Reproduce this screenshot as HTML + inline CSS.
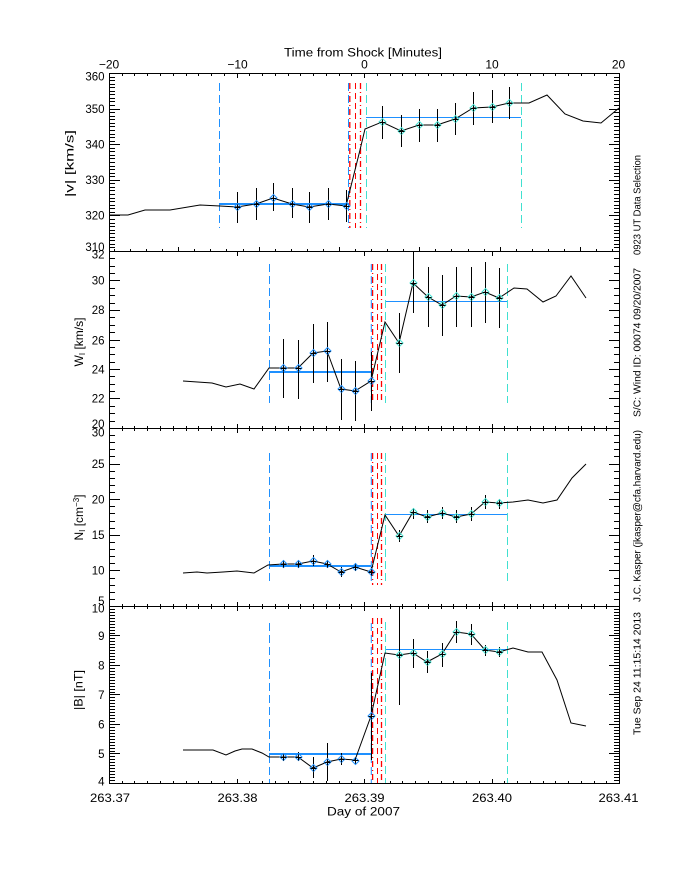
<!DOCTYPE html>
<html><head><meta charset="utf-8"><style>
html,body{margin:0;padding:0;background:#fff;}
svg{display:block;}
text{font-family:"Liberation Sans",sans-serif;fill:#000;}
</style></head><body>
<svg width="680" height="880" viewBox="0 0 680 880" xmlns="http://www.w3.org/2000/svg">
<defs>
<path id="xmin" d="M122.5 0v-3M134.5 0v-3M147.5 0v-3M160.5 0v-3M173.5 0v-3M186.5 0v-3M198.5 0v-3M211.5 0v-3M224.5 0v-3M249.5 0v-3M262.5 0v-3M275.5 0v-3M288.5 0v-3M300.5 0v-3M313.5 0v-3M326.5 0v-3M339.5 0v-3M351.5 0v-3M377.5 0v-3M390.5 0v-3M402.5 0v-3M415.5 0v-3M428.5 0v-3M441.5 0v-3M453.5 0v-3M466.5 0v-3M479.5 0v-3M504.5 0v-3M517.5 0v-3M530.5 0v-3M543.5 0v-3M555.5 0v-3M568.5 0v-3M581.5 0v-3M594.5 0v-3M606.5 0v-3"/>
<path id="xmaj" d="M237.5 0v-5M364.5 0v-5M492.5 0v-5"/>
<path id="xodd" d="M114.5 0v-3M130.5 0v-3M146.5 0v-3M162.5 0v-3M194.5 0v-3M210.5 0v-3M226.5 0v-3M243.5 0v-3M275.5 0v-3M291.5 0v-3M307.5 0v-3M323.5 0v-3M355.5 0v-3M371.5 0v-3M387.5 0v-3M403.5 0v-3M435.5 0v-3M451.5 0v-3M468.5 0v-3M484.5 0v-3M516.5 0v-3M532.5 0v-3M548.5 0v-3M564.5 0v-3M596.5 0v-3M612.5 0v-3M178.5 0v-5M259.5 0v-5M339.5 0v-5M419.5 0v-5M500.5 0v-5M580.5 0v-5"/>
<path id="y1" d="M0 247.5h5M0 244.5h5M0 240.5h5M0 237.5h5M0 233.5h5M0 230.5h5M0 226.5h5M0 223.5h5M0 219.5h5M0 212.5h5M0 208.5h5M0 205.5h5M0 201.5h5M0 198.5h5M0 194.5h5M0 190.5h5M0 187.5h5M0 183.5h5M0 176.5h5M0 173.5h5M0 169.5h5M0 166.5h5M0 162.5h5M0 158.5h5M0 155.5h5M0 151.5h5M0 148.5h5M0 141.5h5M0 137.5h5M0 134.5h5M0 130.5h5M0 126.5h5M0 123.5h5M0 119.5h5M0 116.5h5M0 112.5h5M0 105.5h5M0 101.5h5M0 98.5h5M0 94.5h5M0 91.5h5M0 87.5h5M0 84.5h5M0 80.5h5M0 77.5h5M0 215.5h10M0 180.5h10M0 144.5h10M0 109.5h10"/>
<path id="y2" d="M0 421.5h5M0 413.5h5M0 406.5h5M0 391.5h5M0 384.5h5M0 376.5h5M0 362.5h5M0 354.5h5M0 347.5h5M0 332.5h5M0 325.5h5M0 317.5h5M0 303.5h5M0 295.5h5M0 288.5h5M0 273.5h5M0 266.5h5M0 258.5h5M0 398.5h10M0 369.5h10M0 340.5h10M0 310.5h10M0 280.5h10"/>
<path id="y3" d="M0 599.5h5M0 592.5h5M0 585.5h5M0 578.5h5M0 563.5h5M0 556.5h5M0 549.5h5M0 542.5h5M0 528.5h5M0 521.5h5M0 513.5h5M0 506.5h5M0 492.5h5M0 485.5h5M0 478.5h5M0 471.5h5M0 456.5h5M0 449.5h5M0 442.5h5M0 435.5h5M0 570.5h10M0 535.5h10M0 499.5h10M0 464.5h10"/>
<path id="y4" d="M0 780.5h5M0 777.5h5M0 774.5h5M0 771.5h5M0 768.5h5M0 765.5h5M0 762.5h5M0 759.5h5M0 756.5h5M0 751.5h5M0 748.5h5M0 745.5h5M0 742.5h5M0 739.5h5M0 736.5h5M0 733.5h5M0 730.5h5M0 727.5h5M0 721.5h5M0 718.5h5M0 715.5h5M0 712.5h5M0 709.5h5M0 706.5h5M0 703.5h5M0 700.5h5M0 697.5h5M0 692.5h5M0 689.5h5M0 686.5h5M0 683.5h5M0 680.5h5M0 677.5h5M0 674.5h5M0 671.5h5M0 668.5h5M0 662.5h5M0 659.5h5M0 656.5h5M0 653.5h5M0 650.5h5M0 647.5h5M0 644.5h5M0 641.5h5M0 638.5h5M0 633.5h5M0 630.5h5M0 627.5h5M0 624.5h5M0 621.5h5M0 618.5h5M0 615.5h5M0 612.5h5M0 609.5h5M0 753.5h10M0 724.5h10M0 694.5h10M0 665.5h10M0 635.5h10"/>
<path id="dm" d="M-3.5 0L0 -3.5L3.5 0L0 3.5Z" fill="none"/>
<path id="pl" d="M-3 0h6M0 -3v6" stroke="#000" fill="none"/>
</defs>

<!-- ticks -->
<g stroke="#000" stroke-width="1" fill="none" shape-rendering="crispEdges">
  <!-- P1 top (minutes), downward -->
  <use href="#xmin" transform="translate(0,73) scale(1,-1)"/>
  <use href="#xmaj" transform="translate(0,73) scale(1,-1)"/>
  <!-- P1 bottom odd axis, upward -->
  <use href="#xodd" transform="translate(0,252)"/>
  <!-- P2 top majors only -->
  <use href="#xmaj" transform="translate(0,251) scale(1,-1)"/>
  <!-- P2 bottom -->
  <use href="#xmin" transform="translate(0,429)"/>
  <use href="#xmaj" transform="translate(0,429)"/>
  <!-- P3 top -->
  <use href="#xmin" transform="translate(0,428) scale(1,-1)"/>
  <use href="#xmaj" transform="translate(0,428) scale(1,-1)"/>
  <!-- P3 bottom -->
  <use href="#xmin" transform="translate(0,607)"/>
  <use href="#xmaj" transform="translate(0,607)"/>
  <!-- P4 top -->
  <use href="#xmin" transform="translate(0,606) scale(1,-1)"/>
  <use href="#xmaj" transform="translate(0,606) scale(1,-1)"/>
  <!-- P4 bottom -->
  <use href="#xmin" transform="translate(0,784)"/>
  <use href="#xmaj" transform="translate(0,784)"/>
  <!-- y ticks -->
  <use href="#y1" transform="translate(110,0)"/>
  <use href="#y1" transform="translate(619,0) scale(-1,1)"/>
  <use href="#y2" transform="translate(110,0)"/>
  <use href="#y2" transform="translate(619,0) scale(-1,1)"/>
  <use href="#y3" transform="translate(110,0)"/>
  <use href="#y3" transform="translate(619,0) scale(-1,1)"/>
  <use href="#y4" transform="translate(110,0)"/>
  <use href="#y4" transform="translate(619,0) scale(-1,1)"/>
  <!-- frames -->
  <path d="M109 73.5H620M109 251.5H620M109 428.5H620M109 606.5H620M109 783.5H620M109.5 73V784M619.5 73V784"/>
</g>

<!-- average lines -->
<g stroke="#1e90ff" fill="none" shape-rendering="crispEdges">
  <path d="M219 204H349" stroke-width="2"/>
  <path d="M366 117.5H521"/>
  <path d="M269 372H371" stroke-width="2"/>
  <path d="M386 301.5H507"/>
  <path d="M269 566H371" stroke-width="2"/>
  <path d="M386 514.5H507"/>
  <path d="M269 754H371" stroke-width="2"/>
  <path d="M386 649.5H507"/>
</g>

<!-- dashed vertical lines -->
<g fill="none" stroke-width="1">
  <!-- P1 -->
  <path d="M219.5 83V228M348.5 83V228" stroke="#1e90ff" stroke-dasharray="8,4"/>
  <path d="M349.8 83V228M360.5 83V228" stroke="#ff0000" stroke-width="1.3" stroke-dasharray="6,3,1,3"/>
  <path d="M355.5 83V228" stroke="#ff0000" stroke-dasharray="6,4"/>
  <path d="M366.5 83V228M521.5 83V228" stroke="#40e0d0" stroke-dasharray="8,4"/>
  <!-- P2 -->
  <path d="M269.5 264V403M371.3 264V403" stroke="#1e90ff" stroke-dasharray="8,4"/>
  <path d="M372.6 264V403M381.5 264V403" stroke="#ff0000" stroke-width="1.3" stroke-dasharray="6,3,1,3"/>
  <path d="M377.5 264V403" stroke="#ff0000" stroke-dasharray="6,4"/>
  <path d="M385.5 264V403M507.5 264V403" stroke="#40e0d0" stroke-dasharray="8,4"/>
  <!-- P3 -->
  <path d="M269.5 453V585M371.3 453V585" stroke="#1e90ff" stroke-dasharray="8,4"/>
  <path d="M372.6 453V585M381.5 453V585" stroke="#ff0000" stroke-width="1.3" stroke-dasharray="6,3,1,3"/>
  <path d="M377.5 453V585" stroke="#ff0000" stroke-dasharray="6,4"/>
  <path d="M385.5 453V585M507.5 453V585" stroke="#40e0d0" stroke-dasharray="8,4"/>
  <!-- P4 -->
  <path d="M269.5 623V783M371.3 623V783" stroke="#1e90ff" stroke-dasharray="8,4"/>
  <path d="M372.6 618V783M381.5 618V783" stroke="#ff0000" stroke-width="1.3" stroke-dasharray="6,3,1,3"/>
  <path d="M377.5 618V783" stroke="#ff0000" stroke-dasharray="6,4"/>
  <path d="M385.5 622V783M507.5 622V783" stroke="#40e0d0" stroke-dasharray="8,4"/>
</g>

<!-- data lines -->
<g fill="none" stroke="#000" stroke-width="1">
  <polyline points="110,215 128,215 145,210 170,210 200,205 220,206 237,207 256,204 273,198 292,204 309,207 328,204 346,206 350,190 360,150 365,129 382,122 401,131 419,125 437,125 455,119 473,108 492,107 509,103 529,103 547,95 565,114 583,121 601,123 619,108"/>
  <polyline points="183,381 212,383 226,387 240,384 254,389 269,368 283,368 298,368 313,353 327,351 341,389 355,391 371,381 385,322 399,343 413,283 428,297 442,305 456,296 471,297 485,292 499,298 514,288 527,289 543,302 556,296 571,276 586,298"/>
  <polyline points="183,573 197,572 207,573 223,572 237,571 254,573 268,565 283,564 298,564 313,561 327,564 341,572 355,567 371,572 385,515 399,536 413,512 427,517 442,513 456,517 471,514 485,502 499,503 513,502 528,500 543,503 557,500 572,478 586,464"/>
  <polyline points="183,750 213,750 226,755 235,751 242,749 252,749 262,753 269,757 283,757 298,757 313,768 327,762 341,759 355,760 371,716 385,653 399,655 413,653 427,662 442,654 456,632 471,634 485,650 499,652 513,648 528,652 542,652 557,680 571,723 586,726"/>
  <!-- error bars -->
  <path shape-rendering="crispEdges" d="M237.5 192V223M256.5 188V220M273.5 183V211M292.5 188V218M309.5 192V223M328.5 188V220M346.5 190V222M382.5 106V139M401.5 115V147M419.5 109V142M437.5 109V142M455.5 103V135M473.5 92V125M492.5 90V123M509.5 87V119"/>
  <path shape-rendering="crispEdges" d="M283.5 339V398M298.5 340V399M313.5 324V383M327.5 322V382M341.5 359V420M355.5 361V421M371.5 352V411M399.5 313V373M413.5 252V313M428.5 267V327M442.5 275V336M456.5 267V327M471.5 267V327M485.5 262V323M499.5 268V328"/>
  <path shape-rendering="crispEdges" d="M283.5 560V568M298.5 560V568M313.5 555V566M327.5 560V568M341.5 567V577M355.5 563V571M371.5 567V576M399.5 530V542M413.5 508V519M427.5 510V523M442.5 507V519M456.5 510V523M471.5 507V521M485.5 495V509M499.5 499V509"/>
  <path shape-rendering="crispEdges" d="M283.5 753V761M298.5 752V760M313.5 757V778M327.5 743V781M341.5 753V765M355.5 757V764M371.5 673V760M399.5 607V705M413.5 639V668M427.5 651V673M442.5 643V667M456.5 621V643M471.5 624V645M485.5 645V656M499.5 647V657"/>
</g>

<!-- diamonds pre (blue) -->
<g stroke="#1e90ff" stroke-width="1">
  <use href="#dm" x="237.5" y="207"/><use href="#dm" x="256.5" y="204"/><use href="#dm" x="273.5" y="198"/><use href="#dm" x="292.5" y="204"/><use href="#dm" x="309.5" y="207"/><use href="#dm" x="328.5" y="204"/><use href="#dm" x="346.5" y="206"/>
  <use href="#dm" x="283.5" y="368"/><use href="#dm" x="298.5" y="368"/><use href="#dm" x="313.5" y="353"/><use href="#dm" x="327.5" y="351"/><use href="#dm" x="341.5" y="389"/><use href="#dm" x="355.5" y="391"/><use href="#dm" x="371.5" y="381"/>
  <use href="#dm" x="283.5" y="564"/><use href="#dm" x="298.5" y="564"/><use href="#dm" x="313.5" y="561"/><use href="#dm" x="327.5" y="564"/><use href="#dm" x="341.5" y="572"/><use href="#dm" x="355.5" y="567"/><use href="#dm" x="371.5" y="572"/>
  <use href="#dm" x="283.5" y="757"/><use href="#dm" x="298.5" y="757"/><use href="#dm" x="313.5" y="768"/><use href="#dm" x="327.5" y="762"/><use href="#dm" x="341.5" y="759"/><use href="#dm" x="355.5" y="761"/><use href="#dm" x="371.5" y="716"/>
</g>
<!-- diamonds post (turquoise) -->
<g stroke="#40e0d0" stroke-width="1">
  <use href="#dm" x="382.5" y="122"/><use href="#dm" x="401.5" y="131"/><use href="#dm" x="419.5" y="125"/><use href="#dm" x="437.5" y="125"/><use href="#dm" x="455.5" y="119"/><use href="#dm" x="473.5" y="108"/><use href="#dm" x="492.5" y="107"/><use href="#dm" x="509.5" y="103"/>
  <use href="#dm" x="399.5" y="343"/><use href="#dm" x="413.5" y="283"/><use href="#dm" x="428.5" y="297"/><use href="#dm" x="442.5" y="305"/><use href="#dm" x="456.5" y="296"/><use href="#dm" x="471.5" y="297"/><use href="#dm" x="485.5" y="292"/><use href="#dm" x="499.5" y="298"/>
  <use href="#dm" x="399.5" y="536"/><use href="#dm" x="413.5" y="512"/><use href="#dm" x="427.5" y="517"/><use href="#dm" x="442.5" y="513"/><use href="#dm" x="456.5" y="517"/><use href="#dm" x="471.5" y="514"/><use href="#dm" x="485.5" y="502"/><use href="#dm" x="499.5" y="503"/>
  <use href="#dm" x="399.5" y="655"/><use href="#dm" x="413.5" y="653"/><use href="#dm" x="427.5" y="662"/><use href="#dm" x="442.5" y="654"/><use href="#dm" x="456.5" y="632"/><use href="#dm" x="471.5" y="634"/><use href="#dm" x="485.5" y="650"/><use href="#dm" x="499.5" y="652"/>
</g>
<!-- plus marks -->
<g>
  <use href="#pl" x="237.5" y="207.5"/><use href="#pl" x="256.5" y="204.5"/><use href="#pl" x="273.5" y="198.5"/><use href="#pl" x="292.5" y="204.5"/><use href="#pl" x="309.5" y="207.5"/><use href="#pl" x="328.5" y="204.5"/><use href="#pl" x="346.5" y="206.5"/>
  <use href="#pl" x="382.5" y="122.5"/><use href="#pl" x="401.5" y="131.5"/><use href="#pl" x="419.5" y="125.5"/><use href="#pl" x="437.5" y="125.5"/><use href="#pl" x="455.5" y="119.5"/><use href="#pl" x="473.5" y="108.5"/><use href="#pl" x="492.5" y="107.5"/><use href="#pl" x="509.5" y="103.5"/>
  <use href="#pl" x="283.5" y="368.5"/><use href="#pl" x="298.5" y="368.5"/><use href="#pl" x="313.5" y="353.5"/><use href="#pl" x="327.5" y="351.5"/><use href="#pl" x="341.5" y="389.5"/><use href="#pl" x="355.5" y="391.5"/><use href="#pl" x="371.5" y="381.5"/>
  <use href="#pl" x="399.5" y="343.5"/><use href="#pl" x="413.5" y="283.5"/><use href="#pl" x="428.5" y="297.5"/><use href="#pl" x="442.5" y="305.5"/><use href="#pl" x="456.5" y="296.5"/><use href="#pl" x="471.5" y="297.5"/><use href="#pl" x="485.5" y="292.5"/><use href="#pl" x="499.5" y="298.5"/>
  <use href="#pl" x="283.5" y="564.5"/><use href="#pl" x="298.5" y="564.5"/><use href="#pl" x="313.5" y="561.5"/><use href="#pl" x="327.5" y="564.5"/><use href="#pl" x="341.5" y="572.5"/><use href="#pl" x="355.5" y="567.5"/><use href="#pl" x="371.5" y="572.5"/>
  <use href="#pl" x="399.5" y="536.5"/><use href="#pl" x="413.5" y="512.5"/><use href="#pl" x="427.5" y="517.5"/><use href="#pl" x="442.5" y="513.5"/><use href="#pl" x="456.5" y="517.5"/><use href="#pl" x="471.5" y="514.5"/><use href="#pl" x="485.5" y="502.5"/><use href="#pl" x="499.5" y="503.5"/>
  <use href="#pl" x="283.5" y="757.5"/><use href="#pl" x="298.5" y="757.5"/><use href="#pl" x="313.5" y="768.5"/><use href="#pl" x="327.5" y="762.5"/><use href="#pl" x="341.5" y="759.5"/><use href="#pl" x="355.5" y="760.5"/><use href="#pl" x="371.5" y="716.5"/>
  <use href="#pl" x="399.5" y="655.5"/><use href="#pl" x="413.5" y="653.5"/><use href="#pl" x="427.5" y="662.5"/><use href="#pl" x="442.5" y="654.5"/><use href="#pl" x="456.5" y="632.5"/><use href="#pl" x="471.5" y="634.5"/><use href="#pl" x="485.5" y="650.5"/><use href="#pl" x="499.5" y="652.5"/>
</g>

<!-- top axis labels -->
<text x="284" y="56.5" font-size="11.5" textLength="158" lengthAdjust="spacingAndGlyphs">Time from Shock [Minutes]</text>
<g font-size="12" text-anchor="middle">
  <text x="109" y="68.5">−20</text>
  <text x="237.5" y="68.5">−10</text>
  <text x="364.5" y="68.5">0</text>
  <text x="492" y="68.5">10</text>
  <text x="618.5" y="68.5">20</text>
</g>

<!-- y tick labels -->
<g font-size="11.5" text-anchor="end">
  <text x="104.5" y="251">310</text>
  <text x="104.5" y="219.5">320</text>
  <text x="104.5" y="184">330</text>
  <text x="104.5" y="148.5">340</text>
  <text x="104.5" y="113">350</text>
  <text x="104.5" y="80.5">360</text>

  <text x="104.5" y="428">20</text>
  <text x="104.5" y="402.5">22</text>
  <text x="104.5" y="373.5">24</text>
  <text x="104.5" y="344.5">26</text>
  <text x="104.5" y="314">28</text>
  <text x="104.5" y="284.5">30</text>
  <text x="104.5" y="258.5">32</text>

  <text x="104.5" y="605">5</text>
  <text x="104.5" y="574.5">10</text>
  <text x="104.5" y="539">15</text>
  <text x="104.5" y="503.5">20</text>
  <text x="104.5" y="468">25</text>
  <text x="104.5" y="436.5">30</text>

  <text x="104.5" y="785.5">4</text>
  <text x="104.5" y="758">5</text>
  <text x="104.5" y="728.5">6</text>
  <text x="104.5" y="699">7</text>
  <text x="104.5" y="669.5">8</text>
  <text x="104.5" y="640">9</text>
  <text x="104.5" y="612.5">10</text>
</g>

<!-- y axis titles -->
<text transform="translate(73.5,163.5) rotate(-90)" font-size="12" text-anchor="middle" textLength="67" lengthAdjust="spacingAndGlyphs">|v| [km/s]</text>
<text transform="translate(83,342) rotate(-90)" font-size="12" text-anchor="middle">W<tspan font-size="8" dy="2">I</tspan><tspan dy="-2"> [km/s]</tspan></text>
<text transform="translate(83,517.5) rotate(-90)" font-size="12" text-anchor="middle">N<tspan font-size="8" dy="2">I</tspan><tspan dy="-2"> [cm</tspan><tspan font-size="8" dy="-4">−3</tspan><tspan dy="4">]</tspan></text>
<text transform="translate(82.5,690) rotate(-90)" font-size="12" text-anchor="middle" textLength="40" lengthAdjust="spacingAndGlyphs">|B| [nT]</text>

<!-- bottom axis labels -->
<g font-size="12" text-anchor="middle">
  <text x="110" y="802" textLength="40" lengthAdjust="spacingAndGlyphs">263.37</text>
  <text x="237.5" y="802" textLength="40" lengthAdjust="spacingAndGlyphs">263.38</text>
  <text x="364.5" y="802" textLength="40" lengthAdjust="spacingAndGlyphs">263.39</text>
  <text x="492" y="802" textLength="40" lengthAdjust="spacingAndGlyphs">263.40</text>
  <text x="618.5" y="802" textLength="40" lengthAdjust="spacingAndGlyphs">263.41</text>
</g>
<text x="327" y="815.5" font-size="11.5" textLength="73" lengthAdjust="spacingAndGlyphs">Day of 2007</text>

<!-- right side annotation -->
<g font-size="10.5">
  <text transform="translate(640.5,255) rotate(-90)" textLength="100" lengthAdjust="spacingAndGlyphs">0923 UT Data Selection</text>
  <text transform="translate(640.5,417) rotate(-90)" textLength="149" lengthAdjust="spacingAndGlyphs">S/C: Wind ID: 00074 09/20/2007</text>
  <text transform="translate(640.5,602) rotate(-90)" textLength="172" lengthAdjust="spacingAndGlyphs">J.C. Kasper (jkasper@cfa.harvard.edu)</text>
  <text transform="translate(640.5,735) rotate(-90)" textLength="123" lengthAdjust="spacingAndGlyphs">Tue Sep 24 11:15:14 2013</text>
</g>
</svg>
</body></html>
